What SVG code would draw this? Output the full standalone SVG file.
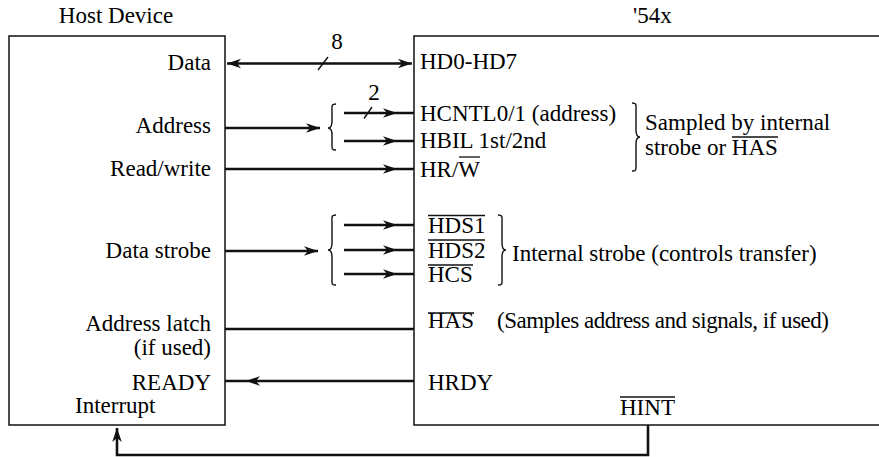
<svg xmlns="http://www.w3.org/2000/svg" width="879" height="457" viewBox="0 0 879 457" font-family="'Liberation Serif', 'Times New Roman', 'DejaVu Serif', serif" font-size="23">
<defs>
<style>
text{font-family:'Liberation Serif','Times New Roman','DejaVu Serif',serif;font-size:23px;fill:#000}
.box{fill:#fff;stroke:#111;stroke-width:1.5}
.w{fill:none;stroke:#111;stroke-width:2.6}
.thin{fill:none;stroke:#111;stroke-width:1.4}
.ov{stroke:#111;stroke-width:1.3}
.r{text-anchor:end}
.m{text-anchor:middle}
</style>
<marker id="ah" viewBox="-15 -6 16 12" refX="0" refY="0" markerWidth="16" markerHeight="12" markerUnits="userSpaceOnUse" orient="auto-start-reverse">
<path d="M0,0 L-14,-4.8 L-10,0 L-14,4.8 Z" fill="#111"/>
</marker>
</defs>
<rect width="879" height="457" fill="#fff"/>

<g id="host-device">
<rect class="box" x="9" y="36" width="216" height="389"/>
<text class="m" x="116" y="23">Host Device</text>
<text class="r" x="211" y="70">Data</text>
<text class="r" x="211" y="133">Address</text>
<text class="r" x="211" y="176">Read/write</text>
<text class="r" x="211" y="258">Data strobe</text>
<text class="r" x="211" y="331">Address latch</text>
<text class="r" x="211" y="355">(if used)</text>
<text class="r" x="211" y="390">READY</text>
<text x="75" y="413">Interrupt</text>
</g>

<g id="dsp54x">
<rect class="box" x="414" y="36" width="480" height="389"/>
<text x="633" y="23">'54x</text>
<text x="420" y="69">HD0-HD7</text>
<text x="420" y="121">HCNTL0/1 (address)</text>
<text x="420" y="148">HBIL 1st/2nd</text>
<text x="420" y="177">HR/W</text>
<line class="ov" x1="459" y1="157" x2="480" y2="157"/>
<text x="428" y="233">HDS1</text>
<line class="ov" x1="428" y1="215.5" x2="485" y2="215.5"/>
<text x="428" y="258">HDS2</text>
<line class="ov" x1="428" y1="240" x2="485" y2="240"/>
<text x="428" y="282">HCS</text>
<line class="ov" x1="428" y1="265" x2="473" y2="265"/>
<text x="428" y="328">HAS</text>
<line class="ov" x1="428" y1="313" x2="474" y2="313"/>
<text x="497" y="328" textLength="332" lengthAdjust="spacing">(Samples address and signals, if used)</text>
<text x="428" y="390">HRDY</text>
<text x="620" y="415">HINT</text>
<line class="ov" x1="620" y1="397" x2="675" y2="397"/>
</g>

<g id="annotations">
<path class="thin" d="M336,104 C331,104 332,106 332,112 L332,121 C332,126 330,128 328,128 C330,128 332,130 332,135 L332,142 C332,148 331,150 336,150"/>
<path class="thin" d="M336,215 C331,215 332,217 332,223 L332,243 C332,248 330,250 328,250 C330,250 332,252 332,257 L332,277 C332,283 331,285 336,285"/>
<path class="thin" d="M632,103 C637,103 636,105 636,111 L636,130 C636,135 638,137 640,137 C638,137 636,139 636,144 L636,163 C636,169 637,171 632,171"/>
<path class="thin" d="M498,215 C503,215 502,217 502,223 L502,243 C502,248 504,250 506,250 C504,250 502,252 502,257 L502,277 C502,283 503,285 498,285"/>
<text x="645" y="130">Sampled by internal</text>
<text x="645" y="155">strobe or HAS</text>
<line class="ov" x1="732" y1="137" x2="778" y2="137"/>
<text x="512" y="261">Internal strobe (controls transfer)</text>
<text class="m" x="337" y="49">8</text>
<text class="m" x="374" y="100">2</text>
</g>

<g id="connectors">
<path class="w" d="M227,63.5 L412,63.5" marker-start="url(#ah)" marker-end="url(#ah)"/>
<line class="thin" x1="318" y1="70" x2="328" y2="57"/>
<path class="w" d="M225,128 L320,128" marker-end="url(#ah)"/>
<polyline class="w" points="344,113 397,113 414,113" marker-mid="url(#ah)"/>
<line class="thin" x1="364" y1="118.5" x2="372" y2="107"/>
<polyline class="w" points="344,141 397,141 414,141" marker-mid="url(#ah)"/>
<polyline class="w" points="225,169 397,169 414,169" marker-mid="url(#ah)"/>
<path class="w" d="M225,251 L318,251" marker-end="url(#ah)"/>
<polyline class="w" points="344,225 397,225 414,225" marker-mid="url(#ah)"/>
<polyline class="w" points="344,250 397,250 414,250" marker-mid="url(#ah)"/>
<polyline class="w" points="344,274 397,274 414,274" marker-mid="url(#ah)"/>
<line class="w" x1="225" y1="329" x2="414" y2="329"/>
<polyline class="w" points="414,381 246,381 225,381" marker-mid="url(#ah)"/>
<path class="w" d="M648,425 L648,455 L117,455 L117,428" marker-end="url(#ah)"/>
</g>
</svg>
